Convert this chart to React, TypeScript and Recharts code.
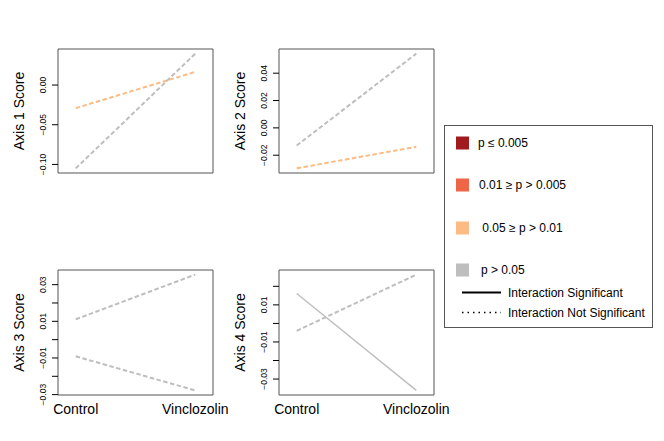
import React from "react";
import { LineChart, Line, XAxis, YAxis, ReferenceArea } from "recharts";

// ---- data ----
const groups = ["Control", "Vinclozolin"];
const groupX = [1, 2];

const axis1Title = "Axis 1 Score";
const axis1Gray = [-0.105, 0.0396];
const axis1Orange = [-0.0291, 0.0166];
const axis1Ticks = [-0.1, -0.05, 0];
const axis1TickLabels = ["\u22120.10", "\u22120.05", "0.00"];

const axis2Title = "Axis 2 Score";
const axis2Gray = [-0.0129, 0.0543];
const axis2Orange = [-0.0296, -0.0138];
const axis2Ticks = [-0.02, 0, 0.02, 0.04];
const axis2TickLabels = ["\u22120.02", "0.00", "0.02", "0.04"];

const axis3Title = "Axis 3 Score";
const axis3GrayUp = [0.0111, 0.0355];
const axis3GrayDown = [-0.0091, -0.0277];
const axis3Ticks = [-0.03, -0.02, -0.01, 0, 0.01, 0.02, 0.03];
const axis3TickLabels = ["\u22120.03", "", "\u22120.01", "", "0.01", "", "0.03"];

const axis4Title = "Axis 4 Score";
const axis4GrayDashed = [-0.004, 0.0263];
const axis4GraySolid = [0.0161, -0.0361];
const axis4Ticks = [-0.03, -0.02, -0.01, 0, 0.01, 0.02];
const axis4TickLabels = ["\u22120.03", "", "\u22120.01", "", "0.01", ""];

const legendLabels = ["p \u2264 0.005", "0.01 \u2265 p > 0.005", " 0.05 \u2265 p > 0.01", "p > 0.05"];
const legendColors = ["#A11A1E", "#EE6548", "#FDBB84", "#BEBEBE"];
const lineLegendLabels = ["Interaction Significant", "Interaction Not Significant"];

const ORANGE = "#FDBB84";
const GRAY = "#BEBEBE";
const FONT = "'Liberation Sans', Arial, Helvetica, sans-serif";
const XDOMAIN: [number, number] = [0.852, 2.148];

type LineSpec = { values: number[]; color: string; dashed: boolean };

function buildData(lines: LineSpec[]) {
  return groupX.map((x, i) => {
    const row: Record<string, number> = { x };
    lines.forEach((l, j) => {
      row["s" + j] = l.values[i];
    });
    return row;
  });
}

const YTick = (props: any) => {
  const { x, y, payload, ticks, labels } = props;
  const idx = ticks.indexOf(payload.value);
  const label = idx >= 0 ? labels[idx] : "";
  if (!label) return null;
  return (
    <text
      x={x}
      y={y}
      transform={`rotate(-90, ${x}, ${y})`}
      textAnchor="middle"
      fontSize={8.5}
      fontFamily={FONT}
      fill="#000"
    >
      {label}
    </text>
  );
};

const XTick = (props: any) => {
  const { x, y, payload } = props;
  const idx = groupX.indexOf(payload.value);
  return (
    <text x={x} y={y + 19} textAnchor="middle" fontSize={14} fontFamily={FONT} fill="#000">
      {groups[idx]}
    </text>
  );
};

const PAD = 12;

const Panel = (props: {
  left: number;
  top: number;
  plotH: number;
  showX: boolean;
  title: string;
  lines: LineSpec[];
  domain: [number, number];
  ticks: number[];
  labels: string[];
}) => {
  const { left, top, plotH, showX, title, lines, domain, ticks, labels } = props;
  const axisW = 58;
  const plotW = 155;
  const xAxisH = showX ? 30 : 0;
  const rightPad = 45;
  const data = buildData(lines);
  const w = axisW + plotW + rightPad;
  const h = PAD + plotH + xAxisH + PAD;
  return (
    <div style={{ position: "absolute", left, top: top - PAD, width: w, height: h }}>
      <LineChart
        width={w}
        height={h}
        data={data}
        margin={{ top: PAD, right: rightPad, bottom: PAD, left: 0 }}
      >
        <XAxis
          dataKey="x"
          type="number"
          domain={XDOMAIN}
          ticks={groupX}
          allowDataOverflow
          hide={!showX}
          height={xAxisH}
          axisLine={false}
          tickLine={false}
          tickSize={0}
          tickMargin={0}
          tick={<XTick />}
        />
        <YAxis
          type="number"
          domain={domain}
          ticks={ticks}
          allowDataOverflow
          width={axisW}
          axisLine={false}
          tickLine={{ stroke: "#000", strokeWidth: 1 }}
          tickSize={6}
          tickMargin={6}
          tick={<YTick ticks={ticks} labels={labels} />}
          interval={0}
        />
        <ReferenceArea
          x1={XDOMAIN[0]}
          x2={XDOMAIN[1]}
          y1={domain[0]}
          y2={domain[1]}
          fill="none"
          fillOpacity={0}
          stroke="#555"
          strokeWidth={1}
          ifOverflow="visible"
        />
        {lines.map((l, j) => (
          <Line
            key={j}
            dataKey={"s" + j}
            type="linear"
            stroke={l.color}
            strokeWidth={l.dashed ? 2 : 1.4}
            strokeDasharray={l.dashed ? "4.5 2.5" : undefined}
            dot={false}
            activeDot={false}
            isAnimationActive={false}
          />
        ))}
      </LineChart>
      <svg
        width={axisW}
        height={plotH}
        style={{ position: "absolute", left: 0, top: PAD, overflow: "visible" }}
      >
        <text
          x={24}
          y={plotH / 2}
          transform={`rotate(-90, 24, ${plotH / 2})`}
          textAnchor="middle"
          fontSize={14}
          fontFamily={FONT}
          fill="#000"
        >
          {title}
        </text>
      </svg>
    </div>
  );
};

const Legend = () => {
  const itemY = [143, 185, 228, 270];
  const textX = [478, 479, 479, 481];
  return (
    <svg width={664} height={441} style={{ position: "absolute", left: 0, top: 0 }}>
      <rect x={444.5} y={125.5} width={208} height={202} fill="none" stroke="#555" strokeWidth={1} />
      {legendLabels.map((lab, i) => (
        <g key={i}>
          <rect x={456} y={itemY[i] - 6.5} width={13} height={13} fill={legendColors[i]} />
          <text
            x={textX[i]}
            y={itemY[i] + 4}
            fontSize={12}
            fontFamily={FONT}
            fill="#000"
            style={{ whiteSpace: "pre" }}
          >
            {lab}
          </text>
        </g>
      ))}
      <line x1={462} x2={501} y1={292.5} y2={292.5} stroke="#000" strokeWidth={2} />
      <text x={508} y={296.5} fontSize={12} fontFamily={FONT} fill="#000">
        {lineLegendLabels[0]}
      </text>
      <line x1={462} x2={501} y1={312.5} y2={312.5} stroke="#000" strokeWidth={1.5} strokeDasharray="1.5 4" />
      <text x={508} y={316.5} fontSize={12} fontFamily={FONT} fill="#000">
        {lineLegendLabels[1]}
      </text>
    </svg>
  );
};

export default function App() {
  return (
    <div style={{ position: "absolute", left: 0, top: 0, width: 664, height: 441, background: "#fff", overflow: "hidden" }}>
      <Legend />
      <Panel
        left={0}
        top={49}
        plotH={124}
        showX={false}
        title={axis1Title}
        lines={[
          { values: axis1Orange, color: ORANGE, dashed: true },
          { values: axis1Gray, color: GRAY, dashed: true },
        ]}
        domain={[-0.1108, 0.0454]}
        ticks={axis1Ticks}
        labels={axis1TickLabels}
      />
      <Panel
        left={221}
        top={49}
        plotH={124}
        showX={false}
        title={axis2Title}
        lines={[
          { values: axis2Gray, color: GRAY, dashed: true },
          { values: axis2Orange, color: ORANGE, dashed: true },
        ]}
        domain={[-0.033, 0.0577]}
        ticks={axis2Ticks}
        labels={axis2TickLabels}
      />
      <Panel
        left={0}
        top={270}
        plotH={125}
        showX={true}
        title={axis3Title}
        lines={[
          { values: axis3GrayUp, color: GRAY, dashed: true },
          { values: axis3GrayDown, color: GRAY, dashed: true },
        ]}
        domain={[-0.0302, 0.038]}
        ticks={axis3Ticks}
        labels={axis3TickLabels}
      />
      <Panel
        left={221}
        top={270}
        plotH={125}
        showX={true}
        title={axis4Title}
        lines={[
          { values: axis4GrayDashed, color: GRAY, dashed: true },
          { values: axis4GraySolid, color: GRAY, dashed: false },
        ]}
        domain={[-0.0386, 0.0288]}
        ticks={axis4Ticks}
        labels={axis4TickLabels}
      />
    </div>
  );
}
